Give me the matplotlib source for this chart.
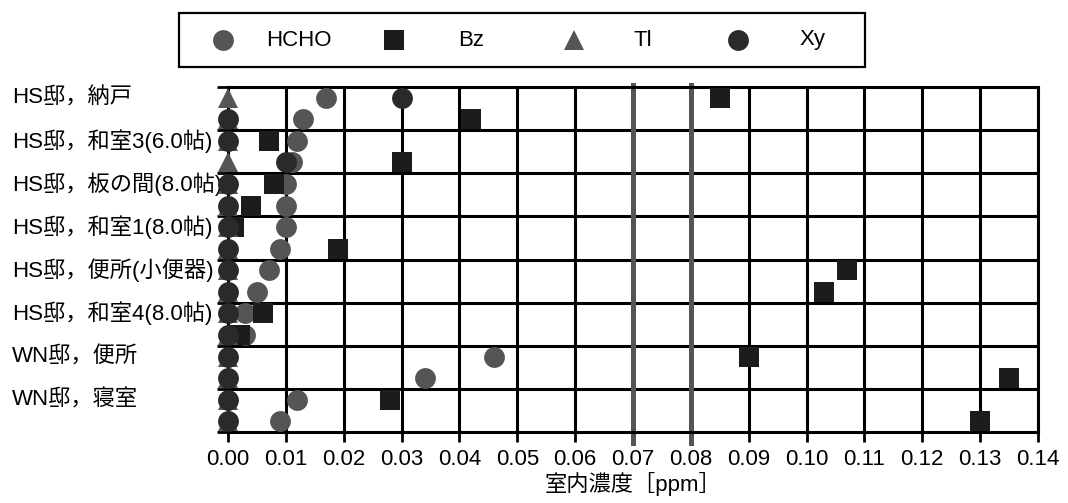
import numpy as np
import matplotlib.pyplot as plt
from matplotlib.lines import Line2D
from matplotlib.patches import Rectangle

plt.rcParams['font.family'] = ['Liberation Sans', 'Noto Sans CJK JP', 'DejaVu Sans']

# 16 rows, two measurements per room; label only on the first row of each room
labels = ['HS邸，納戸', '', 'HS邸，和室3(6.0帖)', '', 'HS邸，板の間(8.0帖)', '',
          'HS邸，和室1(8.0帖)', '', 'HS邸，便所(小便器)', '', 'HS邸，和室4(8.0帖)', '',
          'WN邸，便所', '', 'WN邸，寝室', '']

hcho = [0.017, 0.013, 0.012, 0.011, 0.010, 0.010, 0.010, 0.009,
        0.007, 0.005, 0.003, 0.003, 0.046, 0.034, 0.012, 0.009]
bz = [0.085, 0.042, 0.007, 0.030, 0.008, 0.004, 0.001, 0.019,
      0.107, 0.103, 0.006, 0.002, 0.090, 0.135, 0.028, 0.130]
tl = [0.0] * 16
xy = [0.030, 0.0, 0.0, 0.010, 0.0, 0.0, 0.0, 0.0,
      0.0, 0.0, 0.0, 0.0, 0.0, 0.0, 0.0, 0.0]

guidelines = [0.07, 0.08]
xticks = np.arange(0, 0.141, 0.01)

FS = 16
W, H = 1068, 503
fig = plt.figure(figsize=(W / 100, H / 100), dpi=100)
ax = fig.add_axes([228 / W, 1 - 432 / H, (1038 - 228) / W, (432 - 87) / H])

rows = np.arange(len(labels)) + 0.5

series = [
    ('HCHO', hcho, 'o', '#555555'),
    ('Bz', bz, 's', '#1c1c1c'),
    ('Tl', tl, '^', '#555555'),
    ('Xy', xy, 'o', '#2a2a2a'),
]
for name, vals, mk, col in series:
    ax.plot(vals, rows, linestyle='none', marker=mk, markersize=15,
            color=col, markeredgewidth=0, clip_on=False, zorder=5)

ax.set_xlim(0, 0.14)
ax.set_ylim(len(labels), 0)

# grid
ax.set_xticks(xticks)
ax.set_xticklabels([f'{v:.2f}' for v in xticks], fontsize=FS)
ax.set_yticks(np.arange(0, len(labels) + 1, 2))
ax.set_yticklabels([])
for x in xticks[1:]:
    if round(x, 2) in guidelines:
        continue
    ax.axvline(x, color='black', lw=2.2, zorder=1)
for y in np.arange(2, len(labels), 2):
    ax.axhline(y, color='black', lw=2.2, zorder=1)
for g in guidelines:
    ax.plot([g, g], [-0.1, 16.5], color='#555555', lw=3.6, clip_on=False, zorder=2)

for s in ax.spines.values():
    s.set_linewidth(2.2)
    s.set_color('black')
ax.tick_params(axis='x', direction='out', length=7, width=2, pad=5)
ax.tick_params(axis='y', direction='out', length=8, width=2)

# row labels, left aligned near the figure edge
for r, lab in zip(rows, labels):
    if lab:
        ax.text(-216 / 810 * 0.14, r, lab, fontsize=FS, ha='left', va='center')

ax.set_xlabel('室内濃度［ppm］', fontsize=FS, labelpad=2)

# legend box
fig.add_artist(Rectangle((179 / W, 1 - 67 / H), (865 - 179) / W, 54 / H,
                         transform=fig.transFigure, fill=False, lw=1.6, ec='black'))
leg_marker_x = [223, 394, 574, 738]
leg_text_x = [266, 458, 633, 800]
ly = 1 - 40 / H
for (name, vals, mk, col), mx, tx in zip(series, leg_marker_x, leg_text_x):
    fig.add_artist(Line2D([mx / W], [ly], marker=mk, markersize=15, color=col,
                          markeredgewidth=0, transform=fig.transFigure))
    fig.text(tx / W, ly, name, fontsize=FS, ha='left', va='center')

fig.savefig('out.png', dpi=100)
